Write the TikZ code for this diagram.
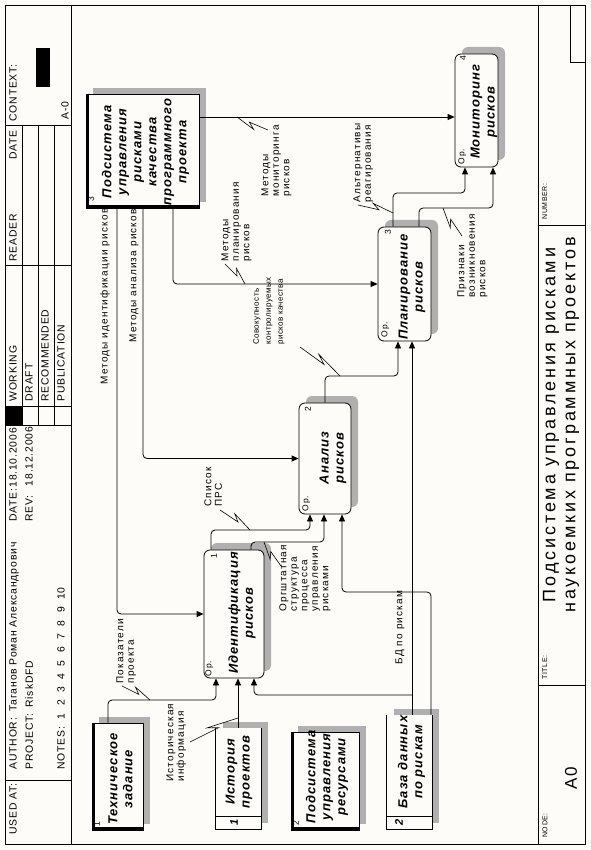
\documentclass[tikz,border=0pt]{standalone}
\usepackage{fontspec}
\setmainfont{Liberation Sans}
\newfontfamily\lblf[LetterSpace=12]{Liberation Sans}
\newfontfamily\lblsf[LetterSpace=5]{Liberation Sans}
\newfontfamily\hdrf[LetterSpace=8]{Liberation Sans}
\newfontfamily\boxf[LetterSpace=8]{Liberation Sans}
\newfontfamily\titf[LetterSpace=16]{Liberation Sans}
\newcommand\ngap{\hspace{7.5pt}}
\usetikzlibrary{arrows.meta,calc,shadows}
\definecolor{bg}{RGB}{253,252,248}
\definecolor{shd}{RGB}{176,176,176}
\begin{document}
\begin{tikzpicture}[x=1pt,y=-1pt,line width=0.8pt,
  arr/.style={-{Triangle[length=7pt,width=6pt]},rounded corners=4pt},
  squig/.style={line width=0.6pt,to path={-- ($(\tikztostart)!0.6!(\tikztotarget)$) -- ($(\tikztostart)!0.4!(\tikztotarget)!5pt!90:(\tikztotarget)$) -- (\tikztotarget)}},
  abox/.style={draw,fill=bg,rounded corners=6pt,inner sep=0pt,general shadow={shadow xshift=7pt,shadow yshift=7pt,fill=shd}},
  ebox/.style={draw,fill=bg,inner sep=0pt,general shadow={shadow xshift=7pt,shadow yshift=6pt,fill=shd}},
  dbox/.style={fill=bg,inner sep=0pt,general shadow={shadow xshift=7pt,shadow yshift=6pt,fill=shd}},
  btxt/.style={rotate=90,align=center,inner sep=0pt,font=\boxf\bfseries\itshape\fontsize{13}{15}\selectfont},
  lbl/.style={rotate=90,anchor=north west,align=left,inner sep=0pt,font=\lblf\fontsize{10}{10.5}\selectfont},
  hdr/.style={rotate=90,anchor=north west,inner sep=0pt,font=\hdrf\fontsize{10.4}{11}\selectfont},
  num/.style={rotate=90,inner sep=0pt,font=\lblf\fontsize{8.5}{9}\selectfont},
  opl/.style={rotate=90,anchor=north west,inner sep=0pt,font=\lblf\fontsize{8.5}{9}\selectfont},
]
\fill[bg] (0,0) rectangle (590,850);
\useasboundingbox (0,0) rectangle (590,850);
% ---------- frame ----------
\draw (5,5) rectangle (585,844);
\draw (71,5) -- (71,844);
\draw (538,5) -- (538,844);
\foreach \yy in {780,425,406,265,125} \draw (5,\yy) -- (71,\yy);
\foreach \xx in {22,38,54} \draw (\xx,125) -- (\xx,425);
\fill (5,406) rectangle (22,425);
\fill (36,48) rectangle (50,87);
\draw (538,225) -- (585,225);
\draw (538,685) -- (585,685);
\draw (570,5) -- (570,62) -- (585,62);
% ---------- header texts ----------
\node[hdr] (usedat) at (9,835) {USED AT:};
\node[hdr] (author) at (9,770) {AUTHOR:\hspace{6pt}Таганов Роман Александрович};
\node[hdr] (project) at (25,770) {PROJECT:\hspace{6pt}RiskDFD};
\node[hdr] (notes) at (57,770) {NOTES:\ngap 1\ngap 2\ngap 3\ngap 4\ngap 5\ngap 6\ngap 7\ngap 8\ngap 9\ngap 10};
\node[hdr] (date1) at (9,522) {DATE:18.10.2006};
\node[hdr] (rev) at (25,522) {REV:\hspace{9pt}18.12.2006};
\node[hdr] (working) at (9,402) {WORKING};
\node[hdr] (draft) at (25,402) {DRAFT};
\node[hdr] (recom) at (41,402) {RECOMMENDED};
\node[hdr] (publ) at (57,402) {PUBLICATION};
\node[hdr] (reader) at (9,262) {READER};
\node[hdr] (date2) at (9,160) {DATE};
\node[hdr] (context) at (9,122) {CONTEXT:};
\node[hdr] (aminus) at (61,120) {A-0};
% ---------- footer texts ----------
\node[hdr,font=\hdrf\fontsize{7}{8}\selectfont] (number) at (542,220) {NUMBER:};
\node[hdr,font=\hdrf\fontsize{7}{8}\selectfont] (titlel) at (542,680) {TITLE:};
\node[hdr,font=\hdrf\fontsize{7}{8}\selectfont] (nodel) at (542,838) {NODE:};
\node[rotate=90,inner sep=0pt,font=\hdrf\fontsize{17}{20}\selectfont] (anode) at (571,778) {A0};
\node[rotate=90,inner sep=0pt,align=center,font=\titf\fontsize{18}{20}\selectfont] (title) at (561,425) {Подсистема управления рисками\\наукоемких программных проектов};
% ---------- activity boxes ----------
\node[abox,minimum width=60pt,minimum height=128pt] (a1) at (234,614) {};
\node[abox,minimum width=52pt,minimum height=111pt] (a2) at (325,458.5) {};
\node[abox,minimum width=53pt,minimum height=114pt] (a3) at (404.5,284) {};
\node[abox,minimum width=43pt,minimum height=113pt] (a4) at (476.5,110.5) {};
\node[btxt] (a1t) at (242,613) {Идентификация\\рисков};
\node[btxt] (a2t) at (333,458) {Анализ\\рисков};
\node[btxt] (a3t) at (412,287) {Планирование\\рисков};
\node[btxt] (a4t) at (484,112) {Мониторинг\\рисков};
\node[num] (a1n) at (214,556) {1};
\node[num] (a2n) at (308,409) {2};
\node[num] (a3n) at (388,232) {3};
\node[num] (a4n) at (463,58) {4};
\node[opl] (a1o) at (205,677) {Ор.};
\node[opl] (a2o) at (302,512) {Ор.};
\node[opl] (a3o) at (381,338) {Ор.};
\node[opl] (a4o) at (458,165) {Ор.};
% ---------- external entities ----------
\node[ebox,minimum width=113pt,minimum height=114pt] (ctl) at (142.5,151) {};
\draw[line width=3.5pt] ([xshift=1.75pt]ctl.north west) -- ([xshift=1.75pt,yshift=1.75pt]ctl.south west) -- ([yshift=1.75pt]ctl.south east);
\node[btxt] (ctlt) at (145.5,152) {Подсистема\\управления\\рисками\\качества\\программного\\проекта};
\node[num] (ctln) at (91,199) {3};
\node[ebox,minimum width=51pt,minimum height=107pt] (tz) at (117.5,776.5) {};
\draw[line width=3.5pt] ([xshift=1.75pt]tz.north west) -- ([xshift=1.75pt,yshift=1.75pt]tz.south west) -- ([yshift=1.75pt]tz.south east);
\node[btxt] (tzt) at (120.5,779) {Техническое\\задание};
\node[num] (tzn) at (97,824) {1};
\node[ebox,minimum width=68pt,minimum height=98pt] (res) at (325,781) {};
\draw[line width=3.5pt] ([xshift=1.75pt]res.north west) -- ([xshift=1.75pt,yshift=1.75pt]res.south west) -- ([yshift=1.75pt]res.south east);
\node[btxt] (rest) at (327,777) {Подсистема\\управления\\ресурсами};
\node[num] (resn) at (296,823) {2};
% ---------- data stores ----------
\node[dbox,minimum width=45pt,minimum height=101pt] (hist) at (238.5,778.5) {};
\draw (hist.north west) -- (hist.south west) -- (hist.south east) -- (hist.north east);
\draw ([yshift=13pt]hist.south west) -- ([yshift=13pt]hist.south east);
\node[btxt] (histt) at (239,772) {История\\проектов};
\node[num,font=\boxf\bfseries\itshape\fontsize{11}{12}\selectfont] (histn) at (234,822.5) {1};
\node[dbox,minimum width=45pt,minimum height=114pt] (db) at (409.5,772) {};
\draw (db.north west) -- (db.south west) -- (db.south east) -- (db.north east);
\draw ([yshift=13pt]db.south west) -- ([yshift=13pt]db.south east);
\node[btxt] (dbt) at (411.5,762) {База данных\\по рискам};
\node[num,font=\boxf\bfseries\itshape\fontsize{11}{12}\selectfont] (dbn) at (399,822.5) {2};
% ---------- guides ----------
\foreach \g in {108,117,143,173,211,216,238,251,254,310,324,325,342,393,398,412,419,431,465,493}
  \coordinate (v\g) at (\g,0);
\coordinate (h117) at (0,117);
% ---------- connectors ----------
\draw[arr] (tz.north -| v108) -- (108,700) -- (216,700) -- (a1.south -| v216);
\draw[arr] (hist.north -| v238) -- (a1.south -| v238);
\draw[arr] (db.north -| v412) -- (a3.south -| v412);
\draw[arr] (412,695) -- (254,695) -- (a1.south -| v254);
\draw[arr] (db.north -| v431) -- (431,592) -- (342,592) -- (a2.south -| v342);
\draw[arr] (a1.north -| v211) -- (211,530) -- (310,530) -- (a2.south -| v310);
\draw[arr] (a1.north -| v251) -- (251,542) -- (324,542) -- (a2.south -| v324);
\draw[arr] (a2.north -| v325) -- (325,376) -- (398,376) -- (a3.south -| v398);
\draw[arr] (a3.north -| v393) -- (393,193) -- (465,193) -- (a4.south -| v465);
\draw[arr] (a3.north -| v419) -- (419,208) -- (493,208) -- (a4.south -| v493);
\draw[arr] (ctl.south -| v117) -- (117,614) -- (a1.west);
\draw[arr] (ctl.south -| v143) -- (143,458.5) -- (a2.west);
\draw[arr] (ctl.south -| v173) -- (173,284) -- (a3.west);
\draw[arr] (ctl.east |- h117) -- (a4.west |- h117);
% ---------- labels ----------
\node[lbl] (l1) at (100,385) {Методы идентификации рисков};
\node[lbl] (l2) at (129,343) {Методы анализа рисков};
\node[lbl] (l3) at (221,262) {Методы\\планирования\\рисков};
\node[lbl] (l4) at (261,197) {Методы\\мониторинга\\рисков};
\node[lbl] (l5) at (353,203) {Альтернативы\\реагирования};
\node[lbl] (l6) at (457,298) {Признаки\\возникновения\\рисков};
\node[lbl,font=\lblsf\fontsize{8}{12}\selectfont] (l7) at (253,345) {Совокупность\\контролируемых\\рисков качества};
\node[lbl] (l8) at (204,507) {Список\\ПРС};
\node[lbl] (l9) at (279,612) {Оргштатная\\структура\\процесса\\управления\\рисками};
\node[lbl] (l10) at (116,684) {Показатели\\проекта};
\node[lbl] (l11) at (166,782) {Историческая\\информация};
\node[lbl] (l12) at (395,665) {БД по рискам};
% ---------- squiggles ----------
\draw[squig] (122,686) to (150,700);
\draw[squig] (190,742) to (238,718);
\draw[squig] (220,510) to (250,530);
\draw[squig] (281,566) to (264,542);
\draw[squig] (300,347) to (340,376);
\draw[squig] (225,264) to (245,284);
\draw[squig] (268,130) to (237,117);
\draw[squig] (358,205) to (393,213);
\draw[squig] (462,236) to (443,208);
\end{tikzpicture}
\end{document}
